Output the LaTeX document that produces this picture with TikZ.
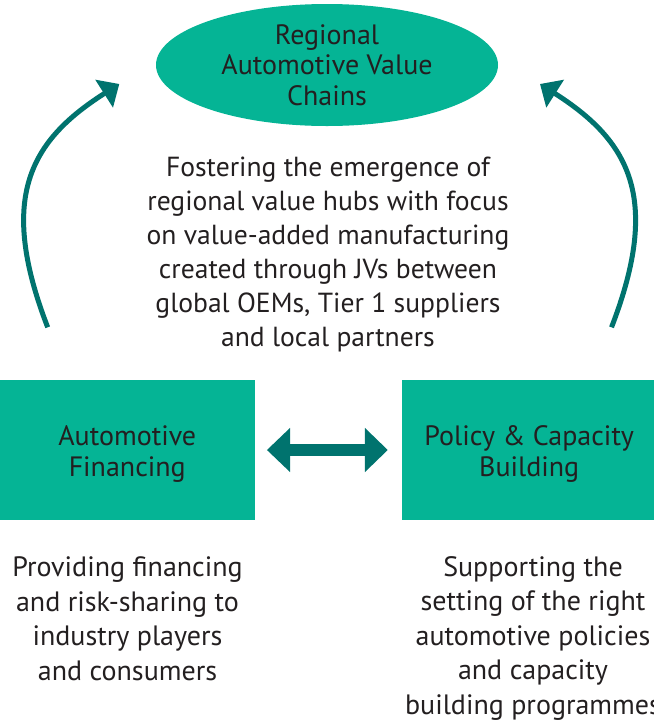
\documentclass[tikz,border=0pt]{standalone}
\usepackage{fontspec}
\setmainfont{PT Sans}
\usetikzlibrary{arrows.meta,shapes.geometric}
\definecolor{mygreen}{RGB}{5,180,149}
\definecolor{myteal}{RGB}{0,115,110}
\definecolor{mytext}{RGB}{35,31,32}
\begin{document}
\begin{tikzpicture}[x=1pt,y=-1pt,
  txt/.style={text=mytext,align=center,inner sep=0pt},
  boxlbl/.style={txt,font={\fontsize{28}{30.5}\selectfont}},
  body/.style={txt,font={\fontsize{28}{34.4}\selectfont}},
  greenbox/.style={fill=mygreen,draw=none,minimum width=254.5pt,minimum height=140pt,inner sep=0pt},
  curvearrow/.style={draw=myteal,line width=5pt,-{Triangle[length=18pt,width=32pt]}},
  dblarrow/.style={draw=myteal,line width=12pt,{Triangle[length=23.3pt,width=43pt]}-{Triangle[length=23pt,width=43pt]}}
]
\useasboundingbox (0,0) rectangle (654,724);
\node[ellipse,fill=mygreen,minimum width=342pt,minimum height=122pt,inner sep=0pt,
      boxlbl,yshift=-1pt] (chain) at (327,64) {Regional\\Automotive Value\\Chains};
\node[body,anchor=base,font={\fontsize{27.6}{33.9}\selectfont}] (ctext) at (328,346) {Fostering the emergence of\\regional value hubs with focus\\on value-added manufacturing\\created through JVs between\\global OEMs, Tier 1 suppliers\\and local partners};
\node[greenbox] (fin) at (127.25,450) {};
\node[greenbox] (pol) at (529.25,450) {};
\node[boxlbl,yshift=-4pt] (finlbl) at (fin.center) {Automotive\\Financing};
\node[boxlbl,yshift=-4pt] (pollbl) at (pol.center) {Policy \& Capacity\\Building};
\node[body,anchor=base] (ltext) at (127.5,680) {Providing financing\\and risk-sharing to\\industry players\\and consumers};
\node[body,anchor=base] (rtext) at (533,714) {Supporting the\\setting of the right\\automotive policies\\and capacity\\building programmes};
\coordinate (ls) at (47.7,327.3);
\coordinate (lt) at (119.3,84);
\coordinate (rs) at (611.5,327.3);
\coordinate (rt) at (540,84);
\draw[curvearrow] (ls) .. controls (-2.7,197) and (30.5,140.4) .. (lt);
\draw[curvearrow] (rs) .. controls (661.9,197) and (628.7,140.4) .. (rt);
\draw[dblarrow,shorten <=12.2pt,shorten >=14pt] (fin.east) -- (pol.west);
\end{tikzpicture}
\end{document}
